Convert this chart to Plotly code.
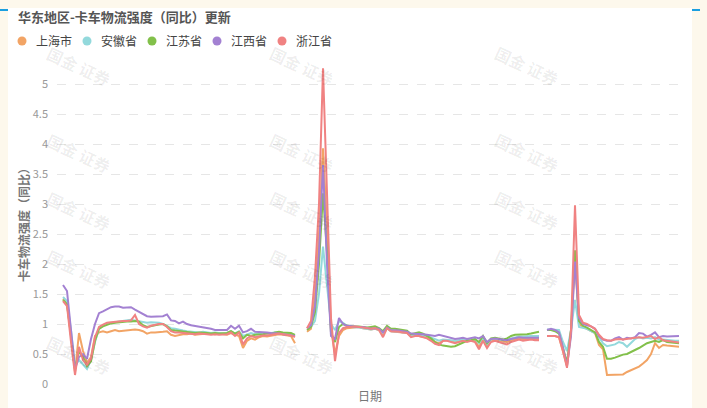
import plotly.graph_objects as go

# ---------------- data ----------------
series_names = ["上海市", "安徽省", "江苏省", "江西省", "浙江省"]
series_colors = ["#f2a465", "#93d9dc", "#82c04a", "#a381d2", "#f08282"]

# three separate periods (day index), gaps between them
seg1_days = list(range(0, 59))
seg2_days = list(range(61, 120))
seg3_days = list(range(121, 155))

sh_seg1 = [1.42, 1.35, 0.8, 0.2, 0.85, 0.55, 0.35, 0.45, 0.8, 0.86, 0.88, 0.86, 0.88, 0.9, 0.88, 0.89, 0.9, 0.91, 0.91, 0.9,
           0.88, 0.84, 0.86, 0.86, 0.86, 0.87, 0.88, 0.82, 0.8, 0.82, 0.83, 0.83, 0.84, 0.82, 0.83, 0.84, 0.84, 0.84, 0.83, 0.84,
           0.83, 0.82, 0.85, 0.82, 0.8, 0.6, 0.72, 0.76, 0.74, 0.78, 0.8, 0.79, 0.8, 0.82, 0.83, 0.82, 0.81, 0.8, 0.68]
ah_seg1 = [1.45, 1.38, 0.9, 0.3, 0.4, 0.32, 0.25, 0.4, 0.7, 0.92, 0.98, 1.0, 1.02, 1.03, 1.04, 1.05, 1.06, 1.07, 1.06, 1.05,
           1.03, 1.02, 1.03, 1.03, 1.02, 1.0, 0.97, 0.93, 0.92, 0.9, 0.89, 0.88, 0.87, 0.86, 0.86, 0.87, 0.86, 0.85, 0.86, 0.85,
           0.84, 0.85, 0.88, 0.84, 0.88, 0.8, 0.83, 0.85, 0.83, 0.84, 0.85, 0.84, 0.85, 0.86, 0.85, 0.84, 0.84, 0.83, 0.8]
js_seg1 = [1.4, 1.33, 0.8, 0.25, 0.55, 0.45, 0.3, 0.38, 0.72, 0.92, 0.96, 0.99, 1.01, 1.02, 1.03, 1.03, 1.04, 1.04, 1.05, 1.04,
           0.98, 0.95, 0.97, 0.98, 0.99, 1.0, 0.96, 0.9, 0.89, 0.88, 0.88, 0.87, 0.86, 0.85, 0.86, 0.86, 0.85, 0.84, 0.85, 0.84,
           0.84, 0.85, 0.88, 0.84, 0.87, 0.76, 0.82, 0.8, 0.82, 0.82, 0.83, 0.84, 0.84, 0.86, 0.87, 0.86, 0.85, 0.85, 0.82]
jx_seg1 = [1.65, 1.55, 0.9, 0.25, 0.45, 0.5, 0.42, 0.75, 1.0, 1.18, 1.21, 1.25, 1.28, 1.29, 1.29, 1.27, 1.27, 1.28, 1.24, 1.2,
           1.17, 1.13, 1.12, 1.12, 1.12, 1.13, 1.16, 1.06, 1.05, 1.01, 1.04, 1.0, 0.98, 0.97, 0.96, 0.95, 0.93, 0.92, 0.9, 0.9,
           0.9, 0.9, 0.97, 0.92, 0.97, 0.86, 0.88, 0.92, 0.87, 0.87, 0.86, 0.86, 0.85, 0.85, 0.84, 0.83, 0.82, 0.8, 0.8]
zj_seg1 = [1.38, 1.3, 0.7, 0.15, 0.62, 0.4, 0.32, 0.42, 0.78, 0.95, 0.99, 1.02, 1.03, 1.04, 1.04, 1.05, 1.05, 1.06, 1.15, 1.0,
           0.96, 0.94, 0.97, 0.99, 1.0, 1.0, 0.95, 0.88, 0.86, 0.86, 0.85, 0.85, 0.84, 0.83, 0.84, 0.84, 0.83, 0.82, 0.83, 0.82,
           0.82, 0.83, 0.86, 0.8, 0.86, 0.66, 0.76, 0.8, 0.78, 0.8, 0.81, 0.81, 0.82, 0.83, 0.84, 0.83, 0.82, 0.81, 0.78]

sh_seg2 = [0.87, 0.92, 1.5, 2.5, 3.93, 2.6, 0.9, 0.5, 0.8, 0.9, 0.93, 0.94, 0.95, 0.95, 0.93, 0.92, 0.91, 0.92, 0.9, 0.82,
           0.93, 0.88, 0.87, 0.87, 0.86, 0.85, 0.8, 0.81, 0.8, 0.79, 0.77, 0.74, 0.7, 0.68, 0.72, 0.73, 0.72, 0.7, 0.72, 0.73,
           0.72, 0.73, 0.72, 0.62, 0.74, 0.64, 0.72, 0.74, 0.72, 0.71, 0.7, 0.73, 0.75, 0.76, 0.75, 0.75, 0.76, 0.75, 0.75]
ah_seg2 = [0.92, 0.95, 1.05, 1.5, 2.29, 1.6, 1.0, 0.9, 1.05, 1.02, 0.97, 0.95, 0.95, 0.94, 0.93, 0.92, 0.91, 0.92, 0.9, 0.85,
           0.93, 0.88, 0.88, 0.87, 0.86, 0.86, 0.82, 0.82, 0.82, 0.81, 0.8, 0.77, 0.74, 0.72, 0.74, 0.74, 0.73, 0.72, 0.73, 0.74,
           0.73, 0.74, 0.75, 0.68, 0.77, 0.66, 0.74, 0.76, 0.74, 0.73, 0.74, 0.76, 0.78, 0.79, 0.79, 0.8, 0.8, 0.8, 0.8]
js_seg2 = [0.9, 0.95, 1.2, 2.0, 3.18, 2.2, 0.85, 0.7, 0.95, 1.0, 0.97, 0.96, 0.96, 0.96, 0.95, 0.94, 0.95, 0.96, 0.93, 0.88,
           0.97, 0.92, 0.92, 0.91, 0.9, 0.89, 0.83, 0.85, 0.86, 0.84, 0.8, 0.76, 0.7, 0.66, 0.64, 0.63, 0.62, 0.63, 0.66, 0.7,
           0.72, 0.73, 0.75, 0.7, 0.8, 0.68, 0.76, 0.77, 0.76, 0.74, 0.76, 0.8, 0.82, 0.82, 0.82, 0.83, 0.84, 0.86, 0.87]
jx_seg2 = [0.93, 0.98, 1.3, 2.2, 3.65, 2.0, 0.8, 0.75, 1.1, 1.0, 0.97, 0.96, 0.96, 0.95, 0.95, 0.93, 0.92, 0.93, 0.92, 0.86,
           0.94, 0.9, 0.9, 0.89, 0.88, 0.87, 0.84, 0.84, 0.83, 0.83, 0.82, 0.81, 0.8, 0.82, 0.8, 0.78, 0.76, 0.75, 0.76, 0.77,
           0.75, 0.76, 0.78, 0.76, 0.8, 0.7, 0.75, 0.76, 0.75, 0.74, 0.73, 0.75, 0.77, 0.78, 0.77, 0.77, 0.78, 0.78, 0.77]
zj_seg2 = [0.93, 1.05, 1.8, 3.0, 5.26, 3.0, 1.1, 0.38, 0.85, 0.93, 0.95, 0.95, 0.96, 0.95, 0.94, 0.92, 0.92, 0.93, 0.9, 0.78,
           0.93, 0.88, 0.88, 0.87, 0.86, 0.85, 0.78, 0.8, 0.8, 0.78, 0.76, 0.72, 0.67, 0.65, 0.72, 0.72, 0.7, 0.68, 0.7, 0.72,
           0.7, 0.72, 0.7, 0.58, 0.72, 0.6, 0.7, 0.72, 0.7, 0.68, 0.66, 0.7, 0.72, 0.74, 0.72, 0.73, 0.74, 0.73, 0.73]

sh_seg3 = [0.8, 0.8, 0.8, 0.78, 0.55, 0.3, 0.85, 2.1, 1.0, 0.95, 0.92, 0.88, 0.85, 0.65, 0.58, 0.15, 0.15, 0.15, 0.16, 0.16,
           0.2, 0.23, 0.25, 0.29, 0.34, 0.4, 0.5, 0.68, 0.6, 0.65, 0.64, 0.63, 0.62, 0.62]
ah_seg3 = [0.91, 0.91, 0.91, 0.9, 0.7, 0.55, 0.9, 1.4, 0.95, 0.93, 0.92, 0.88, 0.85, 0.78, 0.68, 0.63, 0.64, 0.66, 0.7, 0.68,
           0.62, 0.68, 0.75, 0.78, 0.76, 0.77, 0.76, 0.78, 0.74, 0.74, 0.73, 0.73, 0.72, 0.72]
js_seg3 = [0.9, 0.9, 0.88, 0.84, 0.6, 0.35, 0.9, 2.23, 1.05, 0.97, 0.94, 0.9, 0.86, 0.7, 0.62, 0.42, 0.42, 0.44, 0.47, 0.49,
           0.5, 0.53, 0.56, 0.6, 0.64, 0.68, 0.7, 0.72, 0.7, 0.73, 0.7, 0.69, 0.69, 0.68]
jx_seg3 = [0.9, 0.92, 0.9, 0.86, 0.6, 0.3, 0.8, 2.04, 1.1, 1.0, 0.98, 0.96, 0.92, 0.8, 0.74, 0.72, 0.72, 0.76, 0.78, 0.74,
           0.77, 0.76, 0.78, 0.85, 0.84, 0.79, 0.82, 0.86, 0.78, 0.8, 0.79, 0.79, 0.79, 0.8]
zj_seg3 = [0.8, 0.8, 0.8, 0.78, 0.55, 0.27, 0.9, 2.98, 1.15, 1.02, 1.0, 0.96, 0.92, 0.82, 0.75, 0.73, 0.72, 0.74, 0.75, 0.74,
           0.75, 0.76, 0.76, 0.78, 0.77, 0.78, 0.8, 0.75, 0.78, 0.73, 0.72, 0.71, 0.7, 0.69]

y_ticks = [0, 0.5, 1, 1.5, 2, 2.5, 3, 3.5, 4, 4.5, 5]
y_tick_labels = ["0", "0.5", "1", "1.5", "2", "2.5", "3", "3.5", "4", "4.5", "5"]

title_text = "华东地区-卡车物流强度（同比）更新"
y_title = "卡车物流强度（同比）"
x_title = "日期"
watermark = "国金 证券"

# ---------------- build ----------------
FONT = "Noto Sans CJK SC"
x_all = seg1_days + [None] + seg2_days + [None] + seg3_days
segs = [
    (sh_seg1, sh_seg2, sh_seg3),
    (ah_seg1, ah_seg2, ah_seg3),
    (js_seg1, js_seg2, js_seg3),
    (jx_seg1, jx_seg2, jx_seg3),
    (zj_seg1, zj_seg2, zj_seg3),
]

fig = go.Figure()
for name, color, (a, b, c) in zip(series_names, series_colors, segs):
    y_all = a + [None] + b + [None] + c
    fig.add_trace(go.Scatter(x=x_all, y=y_all, mode="lines", name=name,
                             line=dict(color=color, width=2), connectgaps=False,
                             showlegend=False))

W, H = 707, 408
ML, MR, MT, MB = 57, 24, 60, 24
PW, PH = W - ML - MR, H - MT - MB


def px(xp):
    return (xp - ML) / PW


def py(yp):
    return (H - yp - MB) / PH


shapes = [
    dict(type="rect", xref="paper", yref="paper",
         x0=px(8), x1=px(692), y0=-1, y1=py(8),
         fillcolor="white", line=dict(width=0), layer="below"),
    dict(type="line", xref="paper", yref="paper",
         x0=px(0), x1=px(8), y0=py(10), y1=py(10),
         line=dict(color="#1a9fe0", width=2)),
    dict(type="line", xref="paper", yref="paper",
         x0=px(692), x1=px(700), y0=py(10), y1=py(10),
         line=dict(color="#1a9fe0", width=2)),
]

annotations = []
for cx in [40, 302, 566]:
    for cy in [38, 125, 211, 297, 383]:
        annotations.append(dict(
            text="<b>" + watermark + "</b>", xref="paper", yref="paper",
            x=px(cx), y=py(cy),
            showarrow=False, textangle=25,
            font=dict(family=FONT, size=16, color="rgba(0,0,0,0.07)")))

# custom legend: round dots + labels
legend_step = 65
for i, (name, color) in enumerate(zip(series_names, series_colors)):
    dot_x = 22 + legend_step * i
    shapes.append(dict(type="circle", xref="paper", yref="paper",
                       xsizemode="pixel", ysizemode="pixel",
                       xanchor=px(dot_x), yanchor=py(41),
                       x0=-4.5, x1=4.5, y0=-4.5, y1=4.5,
                       fillcolor=color, line=dict(width=0)))
    annotations.append(dict(text=name, xref="paper", yref="paper",
                            x=px(dot_x + 12), y=py(41), xanchor="left", yanchor="middle",
                            showarrow=False,
                            font=dict(family=FONT, size=12, color="#444")))

fig.update_layout(
    width=W, height=H,
    margin=dict(l=ML, r=MR, t=MT, b=MB, pad=0, autoexpand=False),
    paper_bgcolor="#fdf8ec",
    plot_bgcolor="rgba(0,0,0,0)",
    font=dict(family=FONT, color="#888"),
    showlegend=False,
    title=dict(text="<b>" + title_text + "</b>", xref="container", yref="container",
               x=18 / W, y=1 - 17 / H, xanchor="left", yanchor="middle",
               font=dict(family=FONT, size=13, color="#555")),
    xaxis=dict(range=[-1.5, 155], showgrid=False, showticklabels=False,
               zeroline=False, showline=False, ticks="",
               title=dict(text=x_title, standoff=8,
                          font=dict(family=FONT, size=12, color="#777"))),
    yaxis=dict(range=[0, 5.4], tickvals=y_ticks, ticktext=y_tick_labels,
               showgrid=True, gridcolor="#e6e6e6", griddash="dash", gridwidth=1,
               zeroline=False, showline=False, ticks="", ticklabelstandoff=8,
               tickfont=dict(family=FONT, size=11, color="#999"),
               title=dict(text="<b>" + y_title + "</b>", standoff=0,
                          font=dict(family=FONT, size=12, color="#777"))),
    shapes=shapes,
    annotations=annotations,
)

fig.write_html("out.html")
